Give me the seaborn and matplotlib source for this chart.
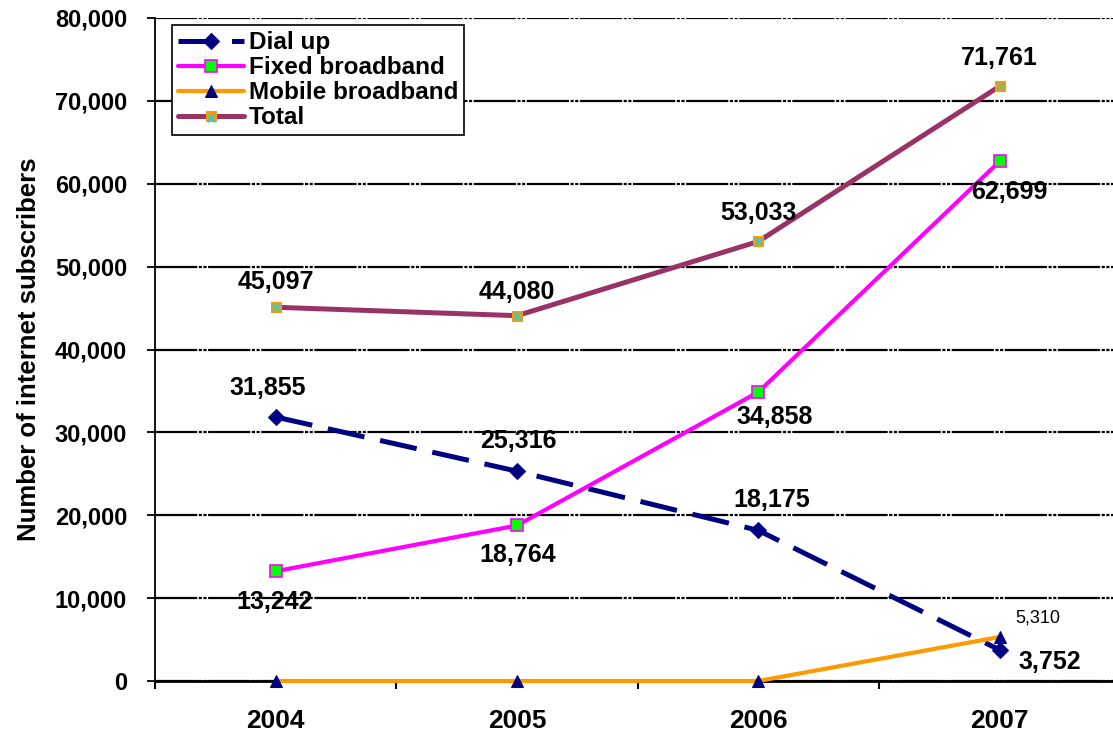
import numpy as np
import pandas as pd
import seaborn as sns
import matplotlib.pyplot as plt
from matplotlib.ticker import FuncFormatter, FixedLocator
from matplotlib.legend_handler import HandlerTuple

years = [2004, 2005, 2006, 2007]
dial_up = [31855, 25316, 18175, 3752]
fixed_bb = [13242, 18764, 34858, 62699]
mobile_bb = [0, 0, 0, 5310]
total = [45097, 44080, 53033, 71761]

y_ticks = [0, 10000, 20000, 30000, 40000, 50000, 60000, 70000, 80000]

sns.set_style("white")
plt.rcParams['font.family'] = ['Liberation Sans', 'DejaVu Sans']
plt.rcParams['text.color'] = 'black'
plt.rcParams['axes.labelcolor'] = 'black'
plt.rcParams['xtick.color'] = 'black'
plt.rcParams['ytick.color'] = 'black'

fig = plt.figure(figsize=(11.13, 7.36), dpi=100)
ax = fig.add_axes([155 / 1113, 1 - 681 / 736, 958 / 1113, 663 / 736])

df = pd.DataFrame({'Year': years, 'Dial up': dial_up, 'Fixed broadband': fixed_bb,
                   'Mobile broadband': mobile_bb, 'Total': total})

sns.lineplot(data=df, x='Year', y='Total', ax=ax, color='#993366', lw=3.6,
             marker='s', markersize=7, markerfacecolor='#FF9900',
             markeredgecolor='#FF9900', zorder=5)
sns.lineplot(data=df, x='Year', y='Dial up', ax=ax, color='#000080', lw=3.6,
             dashes=(7.5, 3.2), marker='D', markersize=8, markerfacecolor='#000080',
             markeredgecolor='#000080', zorder=5)
sns.lineplot(data=df, x='Year', y='Fixed broadband', ax=ax, color='#FF00FF', lw=3,
             marker='s', markersize=8, markerfacecolor='#00FF00',
             markeredgecolor='#FF00FF', markeredgewidth=1.2, zorder=5)
sns.lineplot(data=df, x='Year', y='Mobile broadband', ax=ax, color='#FF9900', lw=3,
             marker='^', markersize=8, markerfacecolor='#000080',
             markeredgecolor='#000080', zorder=6, clip_on=False)
# cyan cross on top of the Total markers
total_x = ax.scatter(df['Year'], df['Total'], marker='x', s=30, color='#33CCCC',
                     linewidths=1.3, zorder=7)

lines = ax.get_lines()
total_line, dial_line, fixed_line, mobile_line = lines[0], lines[1], lines[2], lines[3]

# axes
ax.set_xlim(2003.5, 2007.47)
ax.set_ylim(0, 80000)
ax.set_yticks(y_ticks)
ax.yaxis.set_major_formatter(FuncFormatter(lambda v, p: f'{int(v):,}'))
ax.set_xticks(years)
ax.set_xticklabels([str(y) for y in years])
ax.xaxis.set_minor_locator(FixedLocator([2003.5, 2004.5, 2005.5, 2006.5, 2007.5]))
ax.tick_params(axis='x', which='major', length=0, pad=20, labelsize=19)
ax.tick_params(axis='x', which='minor', length=6, width=1.5, direction='out', color='black', bottom=True)
ax.tick_params(axis='y', length=6, width=1.3, direction='out', color='black', left=True,
               pad=14, labelsize=17)
for lab in ax.get_xticklabels() + ax.get_yticklabels():
    lab.set_fontweight('bold')

ax.set_xlabel('')
ax.set_ylabel('Number of internet subscribers', fontsize=18.5, fontweight='bold', labelpad=10)

for s in ['top', 'right']:
    ax.spines[s].set_visible(False)
ax.spines['left'].set_color('black')
ax.spines['left'].set_linewidth(1.3)
ax.spines['bottom'].set_color('black')
ax.spines['bottom'].set_linewidth(2)

ax.yaxis.grid(True, color='black', lw=1.6, linestyle=(0, (19, 0.7, 1.4, 0.7, 1.4, 0.7)))
ax.set_axisbelow(True)

# data labels: (dx, dy) in pixels
def label(xs, vals, offs, size=18, weight='bold'):
    for x, v, (dx, dy) in zip(xs, vals, offs):
        ax.annotate(f'{v:,}', (x, v), xytext=(dx * 0.72, dy * 0.72), textcoords='offset points',
                    ha='center', va='center', fontsize=size, fontweight=weight, zorder=8)

label(years, dial_up, [(-8, 29), (1, 30), (13, 30), (50, -12)])
label(years, fixed_bb, [(-1, -31), (1, -30), (16, -25), (10, -31)])
label(years[3:], mobile_bb[3:], [(38, 19)], size=13, weight='normal')
label(years, total, [(0, 25), (0, 24), (0, 28), (0, 28)])

leg = ax.legend([dial_line, fixed_line, mobile_line, (total_line, total_x)],
                ['Dial up', 'Fixed broadband', 'Mobile broadband', 'Total'],
                handler_map={tuple: HandlerTuple(ndivide=1)},
                loc='upper left', bbox_to_anchor=(0.018, 0.989), borderaxespad=0,
                prop={'size': 17.5, 'weight': 'bold'}, frameon=True, fancybox=False,
                edgecolor='black', framealpha=1, labelspacing=0.08, handlelength=2.7,
                handletextpad=0.2, borderpad=0.25)
leg.get_frame().set_linewidth(1.2)
leg.set_zorder(10)

plt.savefig('out.png', dpi=100)
